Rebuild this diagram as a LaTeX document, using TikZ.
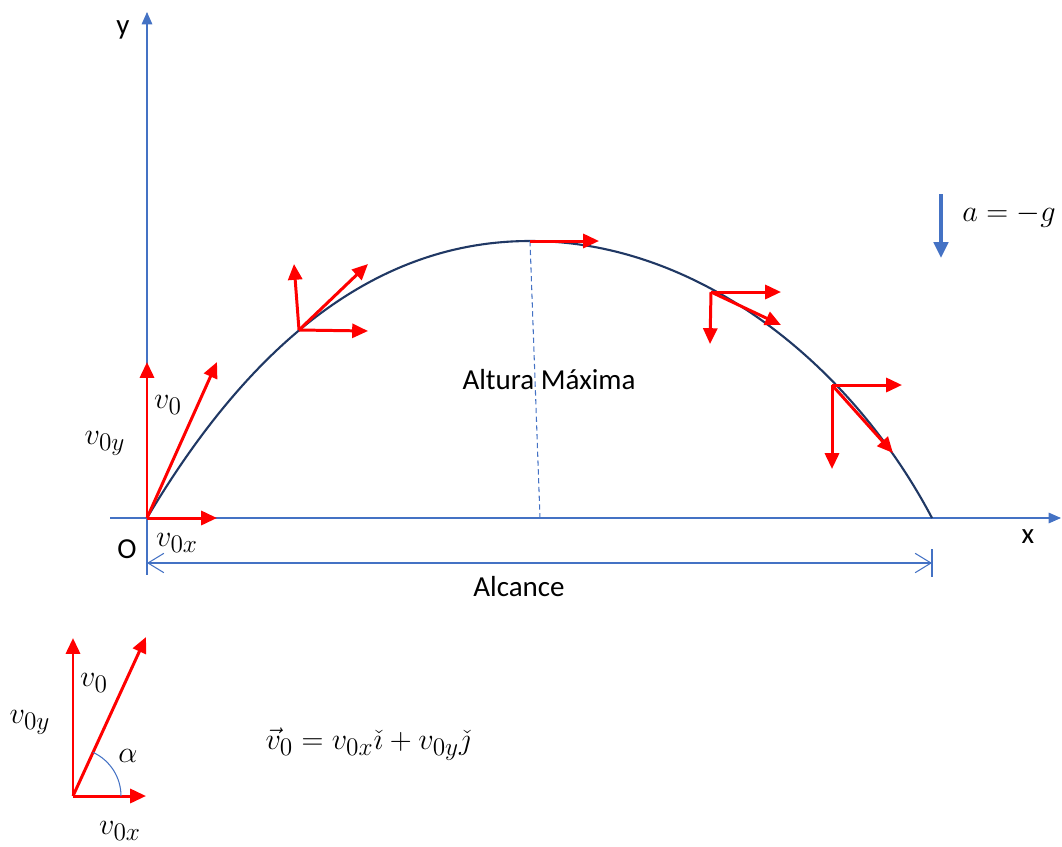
\documentclass[tikz,border=0pt]{standalone}
\usepackage{fontspec}
\setmainfont{Carlito}
\usetikzlibrary{arrows.meta}
\definecolor{axisblue}{RGB}{68,114,196}
\definecolor{pathnavy}{RGB}{32,56,100}

\begin{document}
\begin{tikzpicture}[x=0.02cm,y=-0.02cm,
  axis/.style={axisblue,line width=0.6pt,-{Triangle[length=7pt,width=6pt]}},
  vec/.style={red,line width=1.7pt,-{Triangle[length=9pt,width=8pt]}},
  dim/.style={axisblue,line width=0.6pt,{Straight Barb[length=9pt,width=11pt]}-{Straight Barb[length=9pt,width=11pt]}},
  lbl/.style={font=\fontsize{16.5}{19}\selectfont},
  mth/.style={font=\fontsize{19}{22}\selectfont}]
  \useasboundingbox (0,0) rectangle (1062,846);

  % axes
  \coordinate (O) at (147,518);
  \coordinate (xend) at (1061,518);
  \coordinate (yend) at (147,12);
  \draw[axis] (110,518) -- (xend);
  \draw[axis] (147,548) -- (yend);
  \node[lbl] (ylab) at (123,30) {y};
  \node[lbl] (xlab) at (1028,537) {x};
  \node[lbl] (olab) at (127,549) {O};

  % trajectory
  \coordinate (cima) at (530,241);
  \coordinate (alc) at (932,518);
  \draw[pathnavy,line width=1.2pt] (O) .. controls (268,314) and (400,241) .. (cima)
    .. controls (700,241) and (852,366) .. (alc);
  \coordinate (cimapie) at (540,518);
  \draw[axisblue,line width=0.6pt,dash pattern=on 3pt off 2pt] (cima) -- (cimapie);
  \node[lbl] (altura) at (549,380) {Altura Máxima};

  % range
  \coordinate (dimA) at (147,563);
  \coordinate (dimB) at (932,563);
  \draw[axisblue,line width=0.6pt] (147,548) -- (147,575);
  \draw[axisblue,line width=0.6pt] (932,549) -- (932,577);
  \draw[dim] (dimA) -- (dimB);
  \node[lbl] (alcance) at (519,587) {Alcance};

  % launch vectors
  \coordinate (v0y) at (147,362);
  \coordinate (v0) at (217,362);
  \coordinate (v0x) at (217,518);
  \draw[vec] (O) -- (v0y);
  \draw[vec] (O) -- (v0x);
  \draw[vec] (O) -- (v0);
  \node[mth] (lv0) at (168,405) {$v_0$};
  \node[mth] (lv0y) at (105,443) {$v_{0y}$};
  \node[mth] (lv0x) at (177,543) {$v_{0x}$};

  % point 1
  \coordinate (p1) at (299,330);
  \draw[vec] (p1) -- (294,264);
  \draw[vec] (p1) -- (368,331);
  \draw[vec] (p1) -- (368,264);

  % top
  \draw[vec] (cima) -- (599,241);

  % point 3
  \coordinate (p3) at (711,292);
  \draw[vec] (p3) -- (781,292);
  \draw[vec] (p3) -- (710,344);
  \draw[vec] (p3) -- (781,325);

  % point 4
  \coordinate (p4) at (832,385);
  \draw[vec] (p4) -- (902,385);
  \draw[vec] (p4) -- (832,469);
  \draw[vec] (p4) -- (893,453);

  % gravity
  \coordinate (gtop) at (941,194);
  \coordinate (gbot) at (941,258);
  \draw[axisblue,line width=2.3pt,-{Triangle[length=9pt,width=8pt]}] (gtop) -- (gbot);
  \node[mth] (glab) at (1009,216) {$a=-g$};

  % decomposition
  \coordinate (b0) at (73,796);
  \coordinate (by) at (73,638);
  \coordinate (bv) at (146,637);
  \coordinate (bx) at (146,796);
  \draw[vec] (b0) -- (by);
  \draw[vec] (b0) -- (bx);
  \draw[vec] (b0) -- (bv);
  \draw[axisblue,line width=0.6pt] (121,796) arc[start angle=0,end angle=-65.4,radius=48];
  \node[mth] (bv0) at (94,683) {$v_0$};
  \node[mth] (bv0y) at (30,722) {$v_{0y}$};
  \node[mth] (balpha) at (128,756) {$\alpha$};
  \node[mth] (bv0x) at (120,831) {$v_{0x}$};
  \node[mth] (eq) at (368,744) {$\vec{v}_0=v_{0x}\check{\imath}+v_{0y}\check{\jmath}$};
\end{tikzpicture}
\end{document}
